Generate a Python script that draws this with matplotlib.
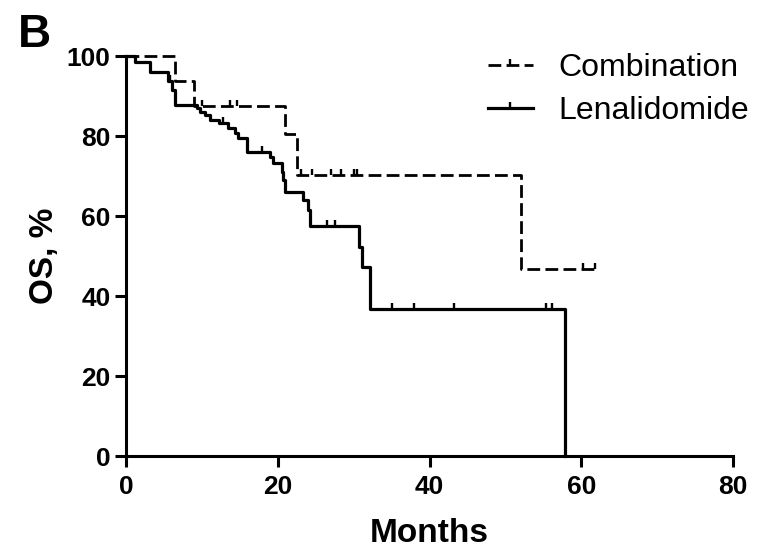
import numpy as np
import matplotlib.pyplot as plt
from matplotlib.path import Path

# Kaplan-Meier basamakları (ay, % sağkalım)
comb_t = [0, 6.5, 8.9, 21.0, 22.5, 52.1, 61.8]
comb_s = [100, 93.75, 87.5, 80.4, 70.2, 46.8, 46.8]
comb_cens = [10.0, 13.7, 14.6, 23.0, 24.5, 27.0, 28.3, 30.0, 30.5, 60.2, 61.8]

len_t = [0, 1.2, 3.2, 5.6, 6.0, 6.4, 9.3, 9.8, 10.4, 11.1, 12.2, 13.5, 14.4, 14.8,
         15.9, 19.0, 19.4, 20.5, 20.7, 21.0, 23.3, 24.0, 24.3, 30.7, 31.1, 32.2, 57.8]
len_s = [100, 98.6, 96.1, 93.8, 91.5, 87.8, 86.9, 86.1, 85.2, 84.0, 83.2, 81.9, 80.7, 79.4,
         76.1, 74.8, 73.2, 71.1, 69.0, 66.1, 64.0, 61.5, 57.5, 52.3, 47.3, 36.8, 0]
len_cens = [5.8, 12.8, 17.9, 26.5, 27.6, 35.0, 37.9, 43.2, 55.3, 56.2]

xticks = [0, 20, 40, 60, 80]
yticks = [0, 20, 40, 60, 80, 100]

plt.rcParams['font.family'] = ['Liberation Sans', 'DejaVu Sans']

# yukarı doğru kısa çizgi: sansür işareti
tick_marker = Path([(0, 0), (0, 1)], [Path.MOVETO, Path.LINETO])


def at(t, s, c):
    idx = np.searchsorted(t, c, side='right') - 1
    return np.array(s)[idx]


fig = plt.figure(figsize=(7.58, 5.52), dpi=100)
ax = fig.add_axes([126 / 758, 96 / 552, 607 / 758, 400 / 552])

l1, = ax.step(comb_t, comb_s, where='post', color='black', lw=2.0,
              linestyle=(0, (4.6, 1.9)), clip_on=False)
m1, = ax.plot(comb_cens, at(comb_t, comb_s, comb_cens), linestyle='none',
              marker=tick_marker, markersize=9, markeredgewidth=1.7, color='black', clip_on=False)
l2, = ax.step(len_t, len_s, where='post', color='black', lw=2.3, clip_on=False)
m2, = ax.plot(len_cens, at(len_t, len_s, len_cens), linestyle='none',
              marker=tick_marker, markersize=9, markeredgewidth=1.7, color='black', clip_on=False)

ax.set_xlim(0, 80)
ax.set_ylim(0, 100)
ax.set_xticks(xticks)
ax.set_yticks(yticks)
for sp in ['top', 'right']:
    ax.spines[sp].set_visible(False)
for sp in ['left', 'bottom']:
    ax.spines[sp].set_linewidth(2.2)
ax.tick_params(axis='both', direction='out', length=8, width=2.2, labelsize=19)
ax.tick_params(axis='y', pad=3)
ax.tick_params(axis='x', pad=6)
for lab in ax.get_xticklabels() + ax.get_yticklabels():
    lab.set_fontweight('bold')

fig.text(429.5 / 758, 1 - 542 / 552, 'Months', fontsize=24, fontweight='bold',
         ha='center', va='baseline')
fig.text(44 / 758, 1 - 256 / 552, 'OS, %', fontsize=24, fontweight='bold',
         rotation=90, ha='center', va='center')
fig.text(18 / 758, 1 - 47 / 552, 'B', fontsize=33, fontweight='bold',
         ha='left', va='baseline')

fig.legend([(l1, m1), (l2, m2)], ['Combination', 'Lenalidomide'],
           loc='upper left', bbox_to_anchor=(488 / 758, 1 - 53 / 552),
           frameon=False, fontsize=23, handlelength=1.4, handletextpad=0.8,
           labelspacing=0.42, borderpad=0, borderaxespad=0)

fig.savefig('out.png', dpi=100)
